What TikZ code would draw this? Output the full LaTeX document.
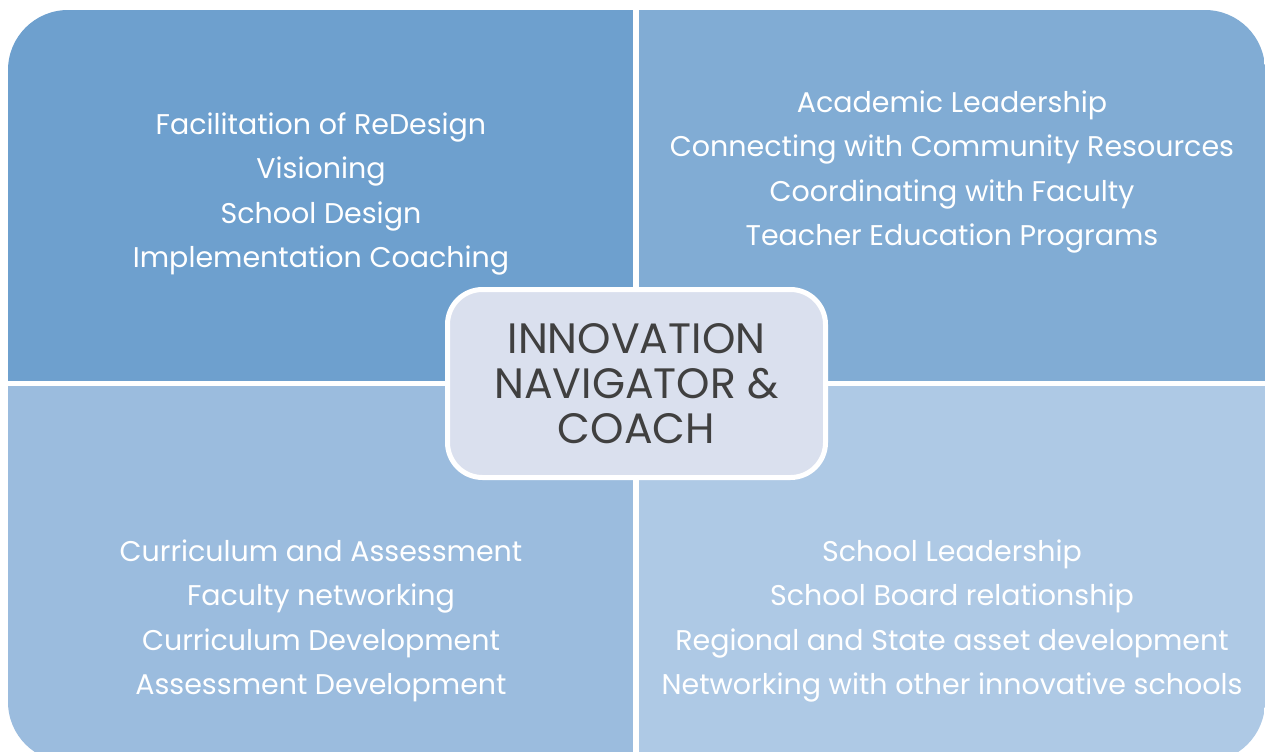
\documentclass[tikz,border=0pt]{standalone}
\usepackage{fontspec}
\setmainfont{Poppins}
\usetikzlibrary{positioning}

\definecolor{quadTL}{RGB}{110,160,206}
\definecolor{quadTR}{RGB}{129,172,212}
\definecolor{quadBL}{RGB}{155,188,222}
\definecolor{quadBR}{RGB}{174,201,229}
\definecolor{hubfill}{RGB}{218,224,238}
\definecolor{hubtext}{RGB}{64,64,64}

\begin{document}
\begin{tikzpicture}[
    x=1pt, y=-1pt,
    quadtext/.style={text=white, align=center, inner sep=0pt, font=\fontsize{28.5}{44.3}\selectfont},
    hub/.style={rectangle, rounded corners=35pt, draw=white, line width=5pt, fill=hubfill,
      minimum width=378pt, minimum height=188pt, align=center, inner sep=0pt,
      text=hubtext, font=\fontsize{42.5}{45}\selectfont}
  ]
    \useasboundingbox (0,0) rectangle (1267,752);

    % Quadrants, clipped to one rounded outline
    \begin{scope}
      \clip[rounded corners=60pt] (8,10) rectangle (1265,762);
      \fill[quadTL] (8,10) rectangle (633,381);
      \fill[quadTR] (639,10) rectangle (1265,381);
      \fill[quadBL] (8,386) rectangle (633,762);
      \fill[quadBR] (639,386) rectangle (1265,762);
    \end{scope}

    % Quadrant texts
    \node[quadtext] (redesign) at (321,194) {
      Facilitation of ReDesign\\
      Visioning\\
      School Design\\
      Implementation Coaching
    };

    \node[quadtext] (academic) at (952,172) {
      Academic Leadership\\
      Connecting with Community Resources\\
      Coordinating with Faculty\\
      Teacher Education Programs
    };

    \node[quadtext] (curriculum) at (321,621) {
      Curriculum and Assessment\\
      Faculty networking\\
      Curriculum Development\\
      Assessment Development
    };

    \node[quadtext] (leadership) at (952,621) {
      School Leadership\\
      School Board relationship\\
      Regional and State asset development\\
      Networking with other innovative schools
    };

    % Centre box
    \node[hub] (navigator) at (636.5,383.5) {INNOVATION\\NAVIGATOR \&\\COACH};
\end{tikzpicture}
\end{document}
